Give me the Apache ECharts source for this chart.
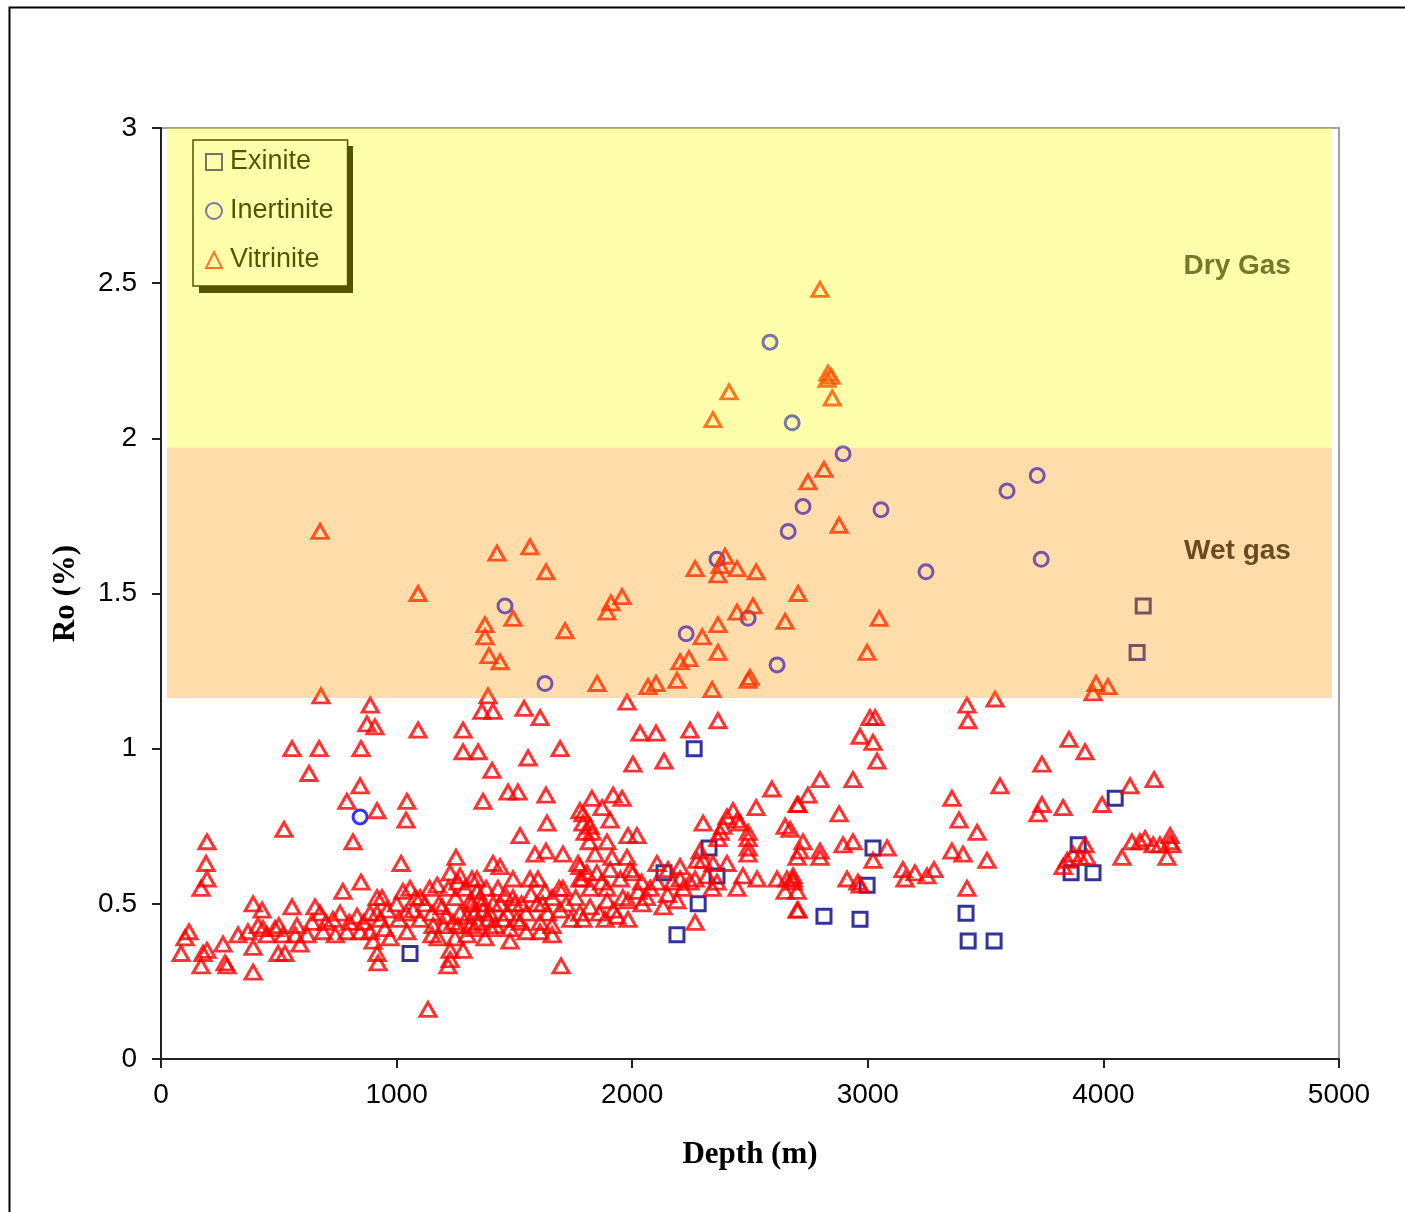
<!DOCTYPE html>
<html>
<head>
<meta charset="utf-8">
<script src="https://cdn.jsdelivr.net/npm/echarts@6/dist/echarts.min.js"></script>
<style>
  html, body { margin: 0; padding: 0; background: #fff; }
  #main { width: 1405px; height: 1212px; }
</style>
</head>
<body>
<div id="main"></div>
<script>
// depth (m), Ro (%)
var exinite = [
    [4169, 1.46], [4143, 1.31], [2263, 1.00], [4050, 0.84], [3893, 0.69], [3022, 0.68],
    [2326, 0.68], [2360, 0.59], [2135, 0.60], [2280, 0.50], [2190, 0.40], [2814, 0.46],
    [2967, 0.45], [2997, 0.56], [3417, 0.47], [3426, 0.38], [3536, 0.38], [3863, 0.60],
    [3956, 0.60], [1057, 0.34]
];
var inertinite = [
    [2585, 2.31], [2679, 2.05], [2895, 1.95], [2725, 1.78], [3056, 1.77], [2662, 1.70],
    [2360, 1.61], [2492, 1.42], [2229, 1.37], [2615, 1.27], [3719, 1.88], [3591, 1.83],
    [3247, 1.57], [3736, 1.61], [1460, 1.46], [1630, 1.21], [845, 0.78]
];
var vitrinite = [
    // upper part (gas windows)
    [2797, 2.48], [2411, 2.15], [2343, 2.06], [2831, 2.21], [2845, 2.20], [2827, 2.19],
    [2849, 2.13], [2746, 1.86], [2814, 1.90], [2878, 1.72], [2704, 1.50], [2649, 1.41],
    [3048, 1.42], [2997, 1.31], [675, 1.70], [1091, 1.50], [1426, 1.63], [1566, 1.65],
    [1634, 1.57], [1375, 1.40], [1375, 1.36], [1392, 1.30], [1439, 1.28], [1494, 1.42],
    [1715, 1.38], [1851, 1.21], [1893, 1.44], [1910, 1.47], [1957, 1.49], [2067, 1.20],
    [2101, 1.21], [2190, 1.22], [2203, 1.28], [2241, 1.29], [2297, 1.36], [2339, 1.19],
    [2364, 1.31], [2364, 1.40], [2364, 1.56], [2373, 1.59], [2394, 1.62], [2445, 1.58],
    [2445, 1.44], [2513, 1.46], [2492, 1.22], [2500, 1.23], [2526, 1.57], [2267, 1.58],
    [4019, 1.20], [3956, 1.18], [3969, 1.21], [3540, 1.16], [679, 1.17], [1388, 1.17],
    // 0 - 1000 m
    [888, 1.14], [874, 1.08], [908, 1.07], [556, 1.00], [671, 1.00], [849, 1.00],
    [628, 0.92], [845, 0.88], [789, 0.83], [917, 0.80], [522, 0.74], [195, 0.70],
    [815, 0.70], [191, 0.63], [195, 0.58], [170, 0.55], [772, 0.54], [849, 0.57],
    [391, 0.50], [429, 0.48], [556, 0.49], [654, 0.49], [917, 0.52], [119, 0.41],
    [102, 0.39], [85, 0.34], [170, 0.30], [178, 0.34], [195, 0.35], [263, 0.37],
    [272, 0.31], [280, 0.30], [327, 0.40], [369, 0.41], [391, 0.36], [391, 0.28],
    [412, 0.43], [433, 0.42], [484, 0.42], [497, 0.34], [518, 0.40], [526, 0.34],
    [577, 0.43], [590, 0.37], [641, 0.44], [675, 0.47], [688, 0.41], [730, 0.45],
    [760, 0.47], [789, 0.41], [832, 0.46], [845, 0.41], [900, 0.38], [917, 0.47],
    [450, 0.40], [620, 0.40], [700, 0.44], [740, 0.40], [800, 0.44], [860, 0.44],
    [950, 0.42], [570, 0.40], [500, 0.43],
    // 1000 - 1800 m
    [1362, 1.12], [1409, 1.12], [1541, 1.13], [1609, 1.10], [1091, 1.06], [1282, 1.06],
    [1282, 0.99], [1346, 0.99], [1558, 0.97], [1694, 1.00], [1405, 0.93], [1473, 0.86],
    [1515, 0.86], [1634, 0.85], [1367, 0.83], [1044, 0.83], [1040, 0.77], [1638, 0.76],
    [1778, 0.80], [1791, 0.76], [1800, 0.73], [1524, 0.72], [1019, 0.63], [1252, 0.65],
    [1587, 0.66], [1634, 0.67], [1706, 0.66], [1770, 0.63], [1409, 0.63], [1439, 0.62],
    [1227, 0.60], [1172, 0.56], [1269, 0.59], [1057, 0.55], [1027, 0.54], [938, 0.52],
    [1341, 0.58], [1494, 0.58], [1566, 0.58], [1600, 0.58], [1630, 0.54], [1706, 0.55],
    [1787, 0.58], [1193, 0.49], [1312, 0.51], [1341, 0.54], [1367, 0.48], [1494, 0.52],
    [1596, 0.50], [1694, 0.48], [1778, 0.47], [887, 0.47], [930, 0.45], [1070, 0.48],
    [1099, 0.45], [1155, 0.43], [1239, 0.44], [1269, 0.47], [1388, 0.45], [1452, 0.45],
    [1524, 0.44], [1609, 0.44], [1660, 0.43], [887, 0.41], [972, 0.39], [1044, 0.41],
    [1176, 0.39], [1248, 0.39], [1299, 0.40], [1375, 0.39], [1481, 0.38], [1609, 0.41],
    [1660, 0.40], [1227, 0.35], [1282, 0.35], [917, 0.34], [921, 0.31], [1218, 0.30],
    [1227, 0.32], [1698, 0.30], [1133, 0.16],
    [1320, 0.50], [1330, 0.47], [1355, 0.52], [1300, 0.46], [1345, 0.44], [1120, 0.50],
    [1010, 0.45], [960, 0.48], [1080, 0.52], [1150, 0.47], [1410, 0.50], [1430, 0.55],
    [1100, 0.52], [1140, 0.55], [1180, 0.50], [1210, 0.46], [1250, 0.52], [1260, 0.43],
    [1290, 0.55], [1310, 0.43], [1360, 0.50], [1380, 0.55], [1395, 0.47], [1420, 0.43],
    [1440, 0.50], [1460, 0.53], [1470, 0.47], [1500, 0.50], [1510, 0.45], [1530, 0.50],
    [1550, 0.47], [1570, 0.53], [1620, 0.50], [1640, 0.47], [1660, 0.52], [1690, 0.55],
    [1720, 0.50], [1740, 0.45], [1760, 0.52], [1000, 0.50], [1040, 0.47], [1150, 0.40],
    [1200, 0.43], [1330, 0.42], [1400, 0.42], [1480, 0.42], [1550, 0.41], [1320, 0.58],
    [1260, 0.57], [1220, 0.55],
    // 1800 - 2700 m
    [1978, 1.15], [2033, 1.05], [2101, 1.05], [2245, 1.06], [2364, 1.09], [2003, 0.95],
    [2135, 0.96], [2593, 0.87], [2700, 0.82], [1829, 0.84], [1919, 0.85], [1957, 0.84],
    [1791, 0.79], [1872, 0.81], [1906, 0.77], [1821, 0.75], [1829, 0.73], [1893, 0.70],
    [1817, 0.70], [1982, 0.72], [2020, 0.72], [1978, 0.65], [1842, 0.66], [1914, 0.65],
    [1906, 0.61], [1991, 0.61], [2003, 0.60], [1808, 0.60], [1778, 0.62], [2301, 0.76],
    [2402, 0.78], [2428, 0.80], [2445, 0.77], [2385, 0.75], [2458, 0.76], [2526, 0.81],
    [2649, 0.75], [2492, 0.73], [2492, 0.71], [2492, 0.68], [2492, 0.66], [2373, 0.73],
    [2364, 0.71], [2288, 0.67], [2275, 0.64], [2301, 0.64], [2402, 0.63], [2343, 0.63],
    [2105, 0.63], [2152, 0.61], [2203, 0.62], [2267, 0.58], [2318, 0.59], [2339, 0.55],
    [2360, 0.57], [2470, 0.59], [2530, 0.58], [2615, 0.58], [2657, 0.58], [2683, 0.58],
    [2649, 0.54], [2700, 0.54], [2445, 0.55], [2700, 0.48], [1778, 0.58], [1821, 0.55],
    [1893, 0.55], [1821, 0.49], [1893, 0.51], [1791, 0.45], [1885, 0.45], [1935, 0.46],
    [1982, 0.51], [1982, 0.45], [2042, 0.50], [2076, 0.55], [2105, 0.57], [2131, 0.49],
    [2190, 0.51], [2216, 0.55], [2245, 0.57], [2267, 0.44], [2025, 0.54], [2203, 0.58],
    [1850, 0.60], [1870, 0.57], [1950, 0.58], [1960, 0.52], [2040, 0.57], [2060, 0.52],
    [2150, 0.53], [2170, 0.57], [1920, 0.48], [1860, 0.47],
    // 2700 - 3600 m
    [3421, 1.14], [3425, 1.09], [3009, 1.10], [3031, 1.10], [2967, 1.04], [3022, 1.02],
    [3039, 0.96], [2797, 0.90], [2937, 0.90], [3561, 0.88], [2746, 0.85], [2704, 0.82],
    [2878, 0.79], [3357, 0.84], [3387, 0.77], [3464, 0.73], [2670, 0.74], [2725, 0.70],
    [2712, 0.67], [2700, 0.65], [2797, 0.67], [2797, 0.65], [2895, 0.69], [2937, 0.70],
    [3082, 0.68], [3022, 0.64], [3357, 0.67], [3404, 0.66], [3506, 0.64], [3149, 0.61],
    [3158, 0.58], [3200, 0.60], [3251, 0.59], [3281, 0.61], [2683, 0.59], [2683, 0.57],
    [2912, 0.58], [2958, 0.57], [2967, 0.56], [3421, 0.55], [2704, 0.48],
    // 3600 m and deeper
    [3854, 1.03], [3922, 0.99], [3739, 0.95], [4113, 0.88], [4215, 0.90], [3994, 0.82],
    [3739, 0.82], [3722, 0.79], [3829, 0.81], [3922, 0.69], [3871, 0.66], [3901, 0.65],
    [3846, 0.64], [3930, 0.65], [3829, 0.62], [4079, 0.65], [4121, 0.70], [4155, 0.70],
    [4177, 0.71], [4211, 0.69], [4240, 0.69], [4283, 0.72], [4283, 0.70], [4291, 0.69],
    [4270, 0.65]
];

// maturity windows
var zoneNames = ['Dry Gas', 'Wet gas'];
var zoneFrom = [1.97, 1.163];
var zoneTo = [3, 1.97];
var zoneDepth = [25, 4970];

var myChart = echarts.init(document.getElementById('main'));

var zoneColors = ['rgba(255,255,0,0.33)', 'rgba(255,153,0,0.33)'];
var zoneText = ['#78782c', '#6b4a22'];

myChart.setOption({
    animation: false,
    backgroundColor: '#fff',
    textStyle: { fontFamily: 'Liberation Sans' },
    grid: {
        left: 161, right: 66, top: 128, bottom: 153,
        show: true, borderColor: '#a0a0a0', borderWidth: 2
    },
    legend: {
        orient: 'vertical',
        left: 193, top: 140,
        z: 1,
        padding: [7, 14, 11, 12],
        itemGap: 19,
        itemWidth: 16, itemHeight: 16,
        backgroundColor: '#fff',
        borderColor: '#000', borderWidth: 1.5,
        textStyle: { fontSize: 27, color: '#000', lineHeight: 30, padding: [0, 0, 0, 3] },
        data: ['Exinite', 'Inertinite', 'Vitrinite']
    },
    xAxis: {
        type: 'value', min: 0, max: 5000, interval: 1000,
        name: 'Depth (m)', nameLocation: 'middle', nameGap: 80,
        nameTextStyle: { fontFamily: 'Liberation Serif', fontWeight: 'bold', fontSize: 31, color: '#000' },
        axisLine: { lineStyle: { color: '#222', width: 2 } },
        axisTick: { length: 9, lineStyle: { color: '#222', width: 2 } },
        axisLabel: { fontSize: 28, color: '#000', margin: 22, formatter: function (v) { return String(v); } },
        splitLine: { show: false }
    },
    yAxis: {
        type: 'value', min: 0, max: 3, interval: 0.5,
        name: 'Ro (%)', nameLocation: 'middle', nameGap: 80,
        nameTextStyle: { fontFamily: 'Liberation Serif', fontWeight: 'bold', fontSize: 31, color: '#000' },
        axisLine: { lineStyle: { color: '#222', width: 2 } },
        axisTick: { length: 9, lineStyle: { color: '#222', width: 2 } },
        axisLabel: { fontSize: 28, color: '#000', margin: 24 },
        splitLine: { show: false }
    },
    series: [{
        name: 'Exinite',
        type: 'scatter',
        symbol: 'rect',
        symbolSize: 14,
        itemStyle: { color: 'rgba(0,0,0,0)', borderColor: '#000080', borderWidth: 3 },
        data: exinite
    }, {
        name: 'Inertinite',
        type: 'scatter',
        symbol: 'circle',
        symbolSize: 14,
        itemStyle: { color: 'rgba(0,0,0,0)', borderColor: '#0000ff', borderWidth: 3 },
        data: inertinite
    }, {
        name: 'Vitrinite',
        type: 'scatter',
        symbol: 'triangle',
        symbolSize: [16, 14],
        itemStyle: { color: 'rgba(0,0,0,0)', borderColor: '#ff0000', borderWidth: 3 },
        data: vitrinite
    }, {
        name: 'zones',
        type: 'scatter',
        z: 5,
        silent: true,
        data: [],
        markArea: {
            silent: true,
            z: 10,
            data: zoneNames.map(function (n, i) {
                return [{
                    name: n,
                    xAxis: zoneDepth[0], yAxis: zoneTo[i],
                    itemStyle: { color: zoneColors[i] },
                    label: {
                        show: true, position: 'insideRight', offset: [-36, -22],
                        fontSize: 28, fontWeight: 'bold', color: zoneText[i]
                    }
                }, {
                    xAxis: zoneDepth[1], yAxis: zoneFrom[i]
                }];
            })
        }
    }],
    graphic: [{
        // legend drop shadow
        type: 'rect',
        left: 199, top: 146, z: 0,
        shape: { width: 154, height: 147 },
        style: { fill: '#000' },
        silent: true
    }, {
        type: 'rect',
        left: 7, top: 5,
        shape: { width: 1500, height: 1300 },
        style: { fill: 'none', stroke: '#000', lineWidth: 2 },
        silent: true
    }]
});
</script>
</body>
</html>
